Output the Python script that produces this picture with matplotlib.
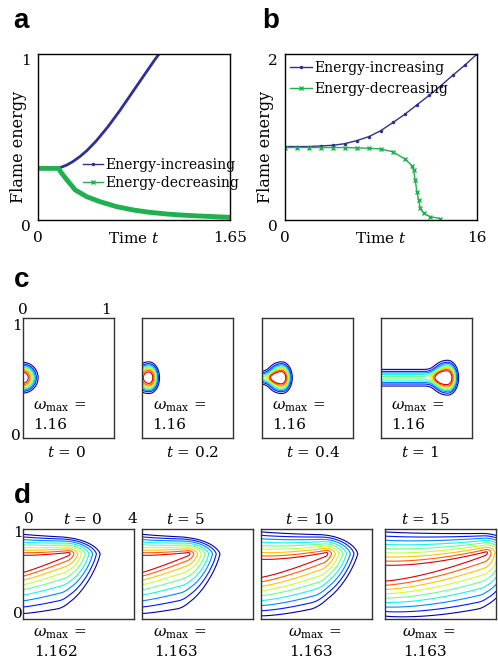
import numpy as np
import matplotlib
matplotlib.use('Agg')
import matplotlib.pyplot as plt
from matplotlib.lines import Line2D

plt.rcParams['font.family'] = ['DejaVu Serif']
plt.rcParams['mathtext.fontset'] = 'dejavuserif'

BLUE = '#2e3192'
GREEN = '#1fb04f'

# panel a: flame energy, short time
a_t_inc = [0, 0.163, 0.2, 0.25, 0.3, 0.36, 0.42, 0.5, 0.6, 0.7, 0.8, 0.9, 1.0, 1.04]
a_e_inc = [0.311, 0.311, 0.318, 0.332, 0.352, 0.382, 0.418, 0.476, 0.561, 0.656,
           0.758, 0.86, 0.962, 1.0]
a_t_dec = [0, 0.177, 0.2, 0.249, 0.32, 0.42, 0.535, 0.678, 0.822, 0.95, 1.108, 1.25,
           1.394, 1.52, 1.65]
a_e_dec = [0.311, 0.311, 0.285, 0.241, 0.181, 0.14, 0.11, 0.08, 0.06, 0.047, 0.036,
           0.029, 0.024, 0.02, 0.016]

# panel b: flame energy, long time
b_t_inc = list(range(17))
b_e_inc = [0.885, 0.885, 0.885, 0.893, 0.90, 0.92, 0.957, 1.005, 1.078, 1.175,
           1.275, 1.388, 1.50, 1.62, 1.746, 1.867, 2.0]
b_t_dec = [0, 1, 2, 3, 4, 5, 6, 7, 8, 9, 10.02, 10.57, 10.71, 10.85, 10.99,
           11.13, 11.27, 11.55, 12.1, 12.94]
b_e_dec = [0.873, 0.873, 0.873, 0.873, 0.873, 0.873, 0.868, 0.865, 0.855, 0.821,
           0.732, 0.656, 0.604, 0.483, 0.342, 0.241, 0.141, 0.08, 0.04, 0.016]

# panel c: flame ball snapshots
c_times = ['0', '0.2', '0.4', '1']
c_center_x = [0.0, 0.073, 0.22, 0.733]
c_ball_size = [0.097, 0.1, 0.1, 0.11]
c_front = [1.0, 1.5, 1.5, 1.6]
c_trail_amp = [0.0, 0.0, 0.5, 0.52]
c_trail_width = [0.05, 0.05, 0.043, 0.054]
c_omega = ['1.16', '1.16', '1.16', '1.16']

# panel d: channel flame snapshots
d_times = ['0', '5', '10', '15']
d_tip_x = [1.69, 1.72, 2.42, 3.69]
d_ridge_left = [0.61, 0.61, 0.56, 0.505]
d_ridge_tip = [0.72, 0.72, 0.72, 0.73]
d_ridge_bend = [1.2, 1.2, 1.4, 1.6]
d_half_w = [0.085, 0.085, 0.088, 0.075]
d_up_step = [0.029, 0.029, 0.038, 0.046]
d_down_step = [0.0374, 0.0374, 0.048, 0.045]
d_down_curv = [0.00228, 0.00228, 0.0006, 0.0004]
d_down_grow = [0.25, 0.25, 0.3, 0.5]
d_slant_down = [0.7, 0.7, 1.0, 0.5]
d_slant_up = [1.5, 1.5, 1.2, 0.8]
d_omega = ['1.162', '1.163', '1.163', '1.163']

W, H = 498, 660
fig = plt.figure(figsize=(W / 100, H / 100), dpi=100)


def box(l, t, r, b):
    return fig.add_axes([l / W, 1 - b / H, (r - l) / W, (b - t) / H])


def ftext(x, y, s, **kw):
    fig.text(x / W, 1 - y / H, s, **kw)


def letter(x, y, s):
    ftext(x, y, s, fontsize=20, fontweight='bold', family='Liberation Sans', va='baseline')


def energy_axes(ax, xmax, ymax, xlab):
    ax.set_xlim(0, xmax)
    ax.set_ylim(0, ymax)
    ax.set_xticks([0, xmax])
    ax.set_xticklabels(['0', xlab])
    ax.set_yticks([0, ymax])
    ax.set_yticklabels(['0', str(ymax)])
    ax.tick_params(length=0, labelsize=11)
    ax.tick_params(axis='x', pad=8)
    ax.tick_params(axis='y', pad=5)
    for lab in ax.get_yticklabels():
        lab.set_va('top')
    ax.annotate('Time $t$', xy=(0.5, 0), xycoords='axes fraction', xytext=(0, -8),
                textcoords='offset points', ha='center', va='top', fontsize=11)
    ax.set_ylabel('Flame energy', fontsize=11.5)
    ax.yaxis.set_label_coords(-0.056, 0.44)
    for sp in ax.spines.values():
        sp.set_linewidth(1.0)


handles = [Line2D([], [], color=BLUE, lw=1, marker='.', ms=3),
           Line2D([], [], color=GREEN, lw=1, marker='x', ms=3)]
labels = ['Energy-increasing', 'Energy-decreasing']

# a
ax = box(38, 54, 230, 220)
ax.plot(a_t_inc, a_e_inc, color=BLUE, lw=2)
ax.plot(a_t_dec, a_e_dec, color=GREEN, lw=3.5, solid_capstyle='butt')
energy_axes(ax, 1.65, 1, '1.65')
ax.legend(handles, labels, loc='upper left', bbox_to_anchor=(0.236, 0.373), frameon=False,
          borderpad=0, borderaxespad=0, handlelength=1.4, handletextpad=0.15,
          labelspacing=0.3, fontsize=10)
letter(13, 28, 'a')

# b
ax = box(285, 54, 477, 220)
ax.plot(b_t_inc, b_e_inc, color=BLUE, lw=1, marker='.', ms=3)
ax.plot(b_t_dec, b_e_dec, color=GREEN, lw=1, marker='x', ms=3)
energy_axes(ax, 16, 2, '16')
ax.legend(handles, labels, loc='upper left', bbox_to_anchor=(0.026, 0.96), frameon=False,
          borderpad=0, borderaxespad=0, handlelength=1.6, handletextpad=0.15,
          labelspacing=0.5, fontsize=10)
letter(262, 28, 'b')

cols = plt.cm.jet(np.linspace(0.92, 0.04, 9))


def frame(ax):
    ax.set_xticks([])
    ax.set_yticks([])
    for sp in ax.spines.values():
        sp.set_linewidth(1.0)
        sp.set_color('#333333')


# c
xc = np.linspace(0, 1, 300)
yc = np.linspace(0, 1, 400)
XC, YC = np.meshgrid(xc, yc)
c_left = [22.7, 142.3, 261.7, 381]
c_label_x = [66.7, 192.5, 313, 420.5]
for i in range(4):
    ax = box(c_left[i], 317.7, c_left[i] + 91, 437.7)
    dx = (XC - c_center_x[i]) * 0.758
    dx = np.where(dx > 0, dx * c_front[i], dx)
    r = np.hypot(dx, YC - 0.5)
    ball = np.exp(-(r / c_ball_size[i]) ** 3)
    tail = c_trail_amp[i] * np.exp(-((YC - 0.5) / c_trail_width[i]) ** 2) \
        / (1 + np.exp((XC - c_center_x[i] + 0.05) / 0.03))
    ax.contour(XC, YC, ball + tail, levels=np.linspace(0.1, 0.9, 9),
               colors=cols[::-1], linewidths=0.8)
    ax.set_xlim(0, 1)
    ax.set_ylim(0, 1)
    frame(ax)
    ftext(c_left[i] + 10.3, 410, r'$\omega_{\max}$ =', fontsize=11, va='baseline')
    ftext(c_left[i] + 10.3, 429, c_omega[i], fontsize=11, va='baseline')
    ftext(c_label_x[i], 457, '$t$ = ' + c_times[i], fontsize=11, ha='center', va='baseline')
ftext(22.7, 310, '0', fontsize=11, ha='center', va='center')
ftext(106, 310, '1', fontsize=11, ha='center', va='center')
ftext(17, 326, '1', fontsize=11, ha='center', va='center')
ftext(15.5, 436, '0', fontsize=11, ha='center', va='center')
letter(14, 287, 'c')

# d
xd = np.linspace(0, 4, 500)
yd = np.linspace(0, 1, 300)
XD, YD = np.meshgrid(xd, yd)
d_left = [23.3, 142.3, 260.7, 385]
d_label_x = [82.5, 185.5, 310, 425]
d_omega_x = [33, 153, 288, 402]
for i in range(4):
    ax = box(d_left[i], 528.5, d_left[i] + 111, 618.7)
    xt, y0, yt = d_tip_x[i], d_ridge_left[i], d_ridge_tip[i]
    s = np.clip(XD / xt, 0, 1)
    ridge = y0 + (yt - y0) * s ** d_ridge_bend[i]
    wu = d_half_w[i] * (1 - 0.9 * s)
    wd = d_half_w[i] * (1 - s)
    dy = YD - ridge
    room = (1 - ridge) / (1 - y0)
    up = np.maximum(dy - wu, 0) / (d_up_step[i] * room)
    dd = np.maximum(-dy - wd, 0) / (1 + d_down_grow[i] * s)
    bq, cq = d_down_step[i], d_down_curv[i]
    dn = (-bq + np.sqrt(bq ** 2 + 4 * cq * dd)) / (2 * cq)
    psi_y = np.where(dy > 0, up, dn)
    x0 = xt - 0.04 - d_slant_down[i] * np.maximum(yt - YD, 0) \
        - d_slant_up[i] * np.maximum(YD - yt, 0)
    psi_x = np.maximum(XD - x0, 0) / 0.135
    psi = np.hypot(psi_x, psi_y)
    ax.contour(XD, YD, psi, levels=np.arange(9) + 0.3, colors=cols, linewidths=0.8)
    ax.set_xlim(0, 4)
    ax.set_ylim(0, 1)
    frame(ax)
    ftext(d_label_x[i], 519, '$t$ = ' + d_times[i], fontsize=11, ha='center', va='center')
    ftext(d_omega_x[i], 637, r'$\omega_{\max}$ =', fontsize=11, va='baseline')
    ftext(d_omega_x[i] + 1, 656, d_omega[i], fontsize=11, va='baseline')
ftext(29, 519, '0', fontsize=11, ha='center', va='center')
ftext(132, 519, '4', fontsize=11, ha='center', va='center')
ftext(17.5, 533, '1', fontsize=11, ha='center', va='center')
ftext(17.5, 614, '0', fontsize=11, ha='center', va='center')
letter(14, 503, 'd')

fig.savefig('out.png', dpi=100)
